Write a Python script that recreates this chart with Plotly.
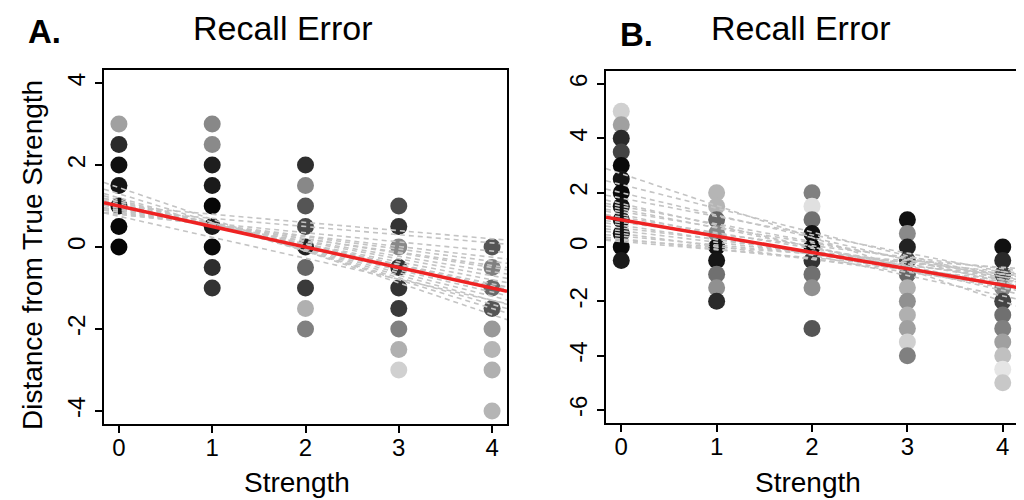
import plotly.graph_objects as go

# ---------------- data ----------------
strength_levels = [0, 1, 2, 3, 4]
strength_ticktext = ["0", "1", "2", "3", "4"]
a_yticks = [-4, -2, 0, 2, 4]
a_yticktext = ["-4", "-2", "0", "2", "4"]
b_yticks = [-6, -4, -2, 0, 2, 4, 6]
b_yticktext = ["-6", "-4", "-2", "0", "2", "4", "6"]

# Panel A: recall error points per strength level (y values and grey level 0-255)
a_y = {
    0: [3, 2.5, 2, 1.5, 1, 0.5, 0],
    1: [3, 2.5, 2, 1.5, 1, 0.5, 0, -0.5, -1],
    2: [2, 1.5, 1, 0.5, 0, -0.5, -1, -1.5, -2],
    3: [1, 0.5, 0, -0.5, -1, -1.5, -2, -2.5, -3],
    4: [0, -0.5, -1, -1.5, -2, -2.5, -3, -4],
}
a_grey = {
    0: [160, 42, 16, 21, 17, 8, 4],
    1: [136, 138, 30, 26, 6, 26, 10, 46, 51],
    2: [46, 136, 85, 74, 34, 102, 58, 176, 128],
    3: [74, 51, 136, 51, 51, 58, 128, 176, 208],
    4: [85, 128, 106, 85, 153, 181, 176, 181],
}
# Panel A: per-subject fitted lines (intercept at strength 0, value at strength 4)
a_line_b = [1.45, 1.30, 1.20, 1.15, 1.10, 1.05, 1.00, 1.00, 0.95, 0.95,
            0.90, 0.90, 0.85, 0.85, 0.80, 0.80, 0.90, 1.00, 0.75, 1.10]
a_line_y4 = [-1.65, -1.50, -1.40, -1.30, -1.20, -1.10, -1.00, -0.90, -0.80, -0.70,
             -0.60, -0.50, -0.45, -0.35, -0.25, -0.10, 0.10, 0.20, -1.30, -0.95]
a_fit = (1.0, -0.5)  # group intercept, slope

# Panel B
b_y = {
    0: [5, 4.5, 4, 3.5, 3, 2.5, 2, 1.5, 1, 0.5, 0, -0.5],
    1: [2, 1.5, 1, 0.5, 0, -0.5, -1, -1.5, -2],
    2: [2, 1.5, 1, 0.5, 0, -0.5, -1, -1.5, -3],
    3: [1, 0.5, 0, -0.5, -1, -1.5, -2, -2.5, -3, -3.5, -4],
    4: [0, -0.5, -1, -1.5, -2, -2.5, -3, -3.5, -4, -4.5, -5],
}
b_grey = {
    0: [208, 160, 42, 68, 10, 21, 10, 17, 17, 17, 10, 26],
    1: [181, 181, 102, 136, 17, 21, 112, 144, 42],
    2: [128, 224, 112, 17, 10, 51, 112, 144, 85],
    3: [17, 138, 34, 68, 102, 176, 144, 176, 160, 208, 128],
    4: [17, 42, 68, 136, 68, 112, 128, 160, 192, 229, 200],
}
b_line_b = [2.70, 2.30, 2.00, 1.80, 1.60, 1.50, 1.40, 1.30, 1.20, 1.10,
            1.00, 0.90, 0.80, 0.70, 0.60, 0.50, 0.40, 0.30, 0.25, 0.20]
b_line_y4 = [-2.00, -1.20, -1.30, -0.90, -1.60, -1.10, -1.40, -1.00, -1.80, -1.20,
             -1.50, -0.80, -1.30, -1.00, -1.10, -1.40, -0.90, -1.20, -0.75, -1.00]
b_fit = (1.0, -0.6)

# ---------------- figure ----------------
XR = [-0.16, 4.16]
FONT = "Liberation Sans, Arial, sans-serif"

fig = go.Figure()


def add_panel(ys, greys, lb, ly4, fit, xa, ya):
    xs, yv, cols = [], [], []
    for s in strength_levels:
        for y, g in zip(ys[s], greys[s]):
            xs.append(s)
            yv.append(y)
            cols.append(f"rgb({g},{g},{g})")
    fig.add_trace(go.Scatter(x=xs, y=yv, mode="markers", xaxis=xa, yaxis=ya,
                             marker=dict(size=17, color=cols, line=dict(width=0)),
                             showlegend=False, hoverinfo="skip"))
    for b, y4 in zip(lb, ly4):
        m = (y4 - b) / 4.0
        fig.add_trace(go.Scatter(x=XR, y=[b + m * XR[0], b + m * XR[1]], mode="lines",
                                 xaxis=xa, yaxis=ya,
                                 line=dict(color="#c4c4c4", width=1.6, dash="5px,4px"),
                                 showlegend=False, hoverinfo="skip"))
    b, m = fit
    fig.add_trace(go.Scatter(x=XR, y=[b + m * XR[0], b + m * XR[1]], mode="lines",
                             xaxis=xa, yaxis=ya,
                             line=dict(color="#ee2222", width=3.5),
                             showlegend=False, hoverinfo="skip"))


add_panel(a_y, a_grey, a_line_b, a_line_y4, a_fit, "x", "y")
add_panel(b_y, b_grey, b_line_b, b_line_y4, b_fit, "x2", "y2")

# the page places the figure 8px in from the top-left corner
OFF = 8
W, H = 1024 - OFF, 500 - OFF


def px(x):
    return (x - OFF) / W


def py(y):
    return 1 - (y - OFF) / H


axis_common = dict(showgrid=False, zeroline=False, showline=True, mirror=True,
                   linecolor="black", linewidth=2, ticks="outside", ticklen=7,
                   tickwidth=1.5, tickcolor="black",
                   tickfont=dict(family=FONT, size=24, color="black"))

fig.update_layout(
    width=W, height=H, margin=dict(l=0, r=0, t=0, b=0),
    paper_bgcolor="white", plot_bgcolor="white",
    xaxis=dict(domain=[px(104), px(507)], range=XR, tickvals=strength_levels,
               ticktext=strength_ticktext, ticklabelstandoff=-6,
               anchor="y", **axis_common),
    yaxis=dict(domain=[py(424), py(70)], range=[-4.32, 4.32], tickvals=a_yticks,
               ticktext=a_yticktext, tickangle=-90, anchor="x", **axis_common),
    xaxis2=dict(domain=[px(606), px(1018)], range=XR, tickvals=strength_levels,
                ticktext=strength_ticktext, ticklabelstandoff=-6,
                anchor="y2", **axis_common),
    yaxis2=dict(domain=[py(423), py(71)], range=[-6.48, 6.48],
                tickvals=b_yticks, ticktext=b_yticktext, tickangle=-90, anchor="x2",
                **axis_common),
)

ann = [
    dict(text="Recall Error", x=282, y=28, size=34),
    dict(text="Recall Error", x=800, y=28, size=34),
    dict(text="<b>A.</b>", x=44, y=31, size=33),
    dict(text="<b>B.</b>", x=636, y=34, size=33),
    dict(text="Strength", x=297, y=482, size=28),
    dict(text="Strength", x=808, y=482, size=28),
]
for a in ann:
    fig.add_annotation(text=a["text"], x=px(a["x"]), y=py(a["y"]), xref="paper",
                       yref="paper", showarrow=False, xanchor="center", yanchor="middle",
                       borderpad=0,
                       font=dict(family=FONT, size=a["size"], color="black"))
fig.add_annotation(text="Distance from True Strength", x=px(32), y=py(255),
                   xref="paper", yref="paper", showarrow=False, textangle=-90,
                   xanchor="center", yanchor="middle",
                   font=dict(family=FONT, size=28, color="black"))

fig.write_html("out.html")
